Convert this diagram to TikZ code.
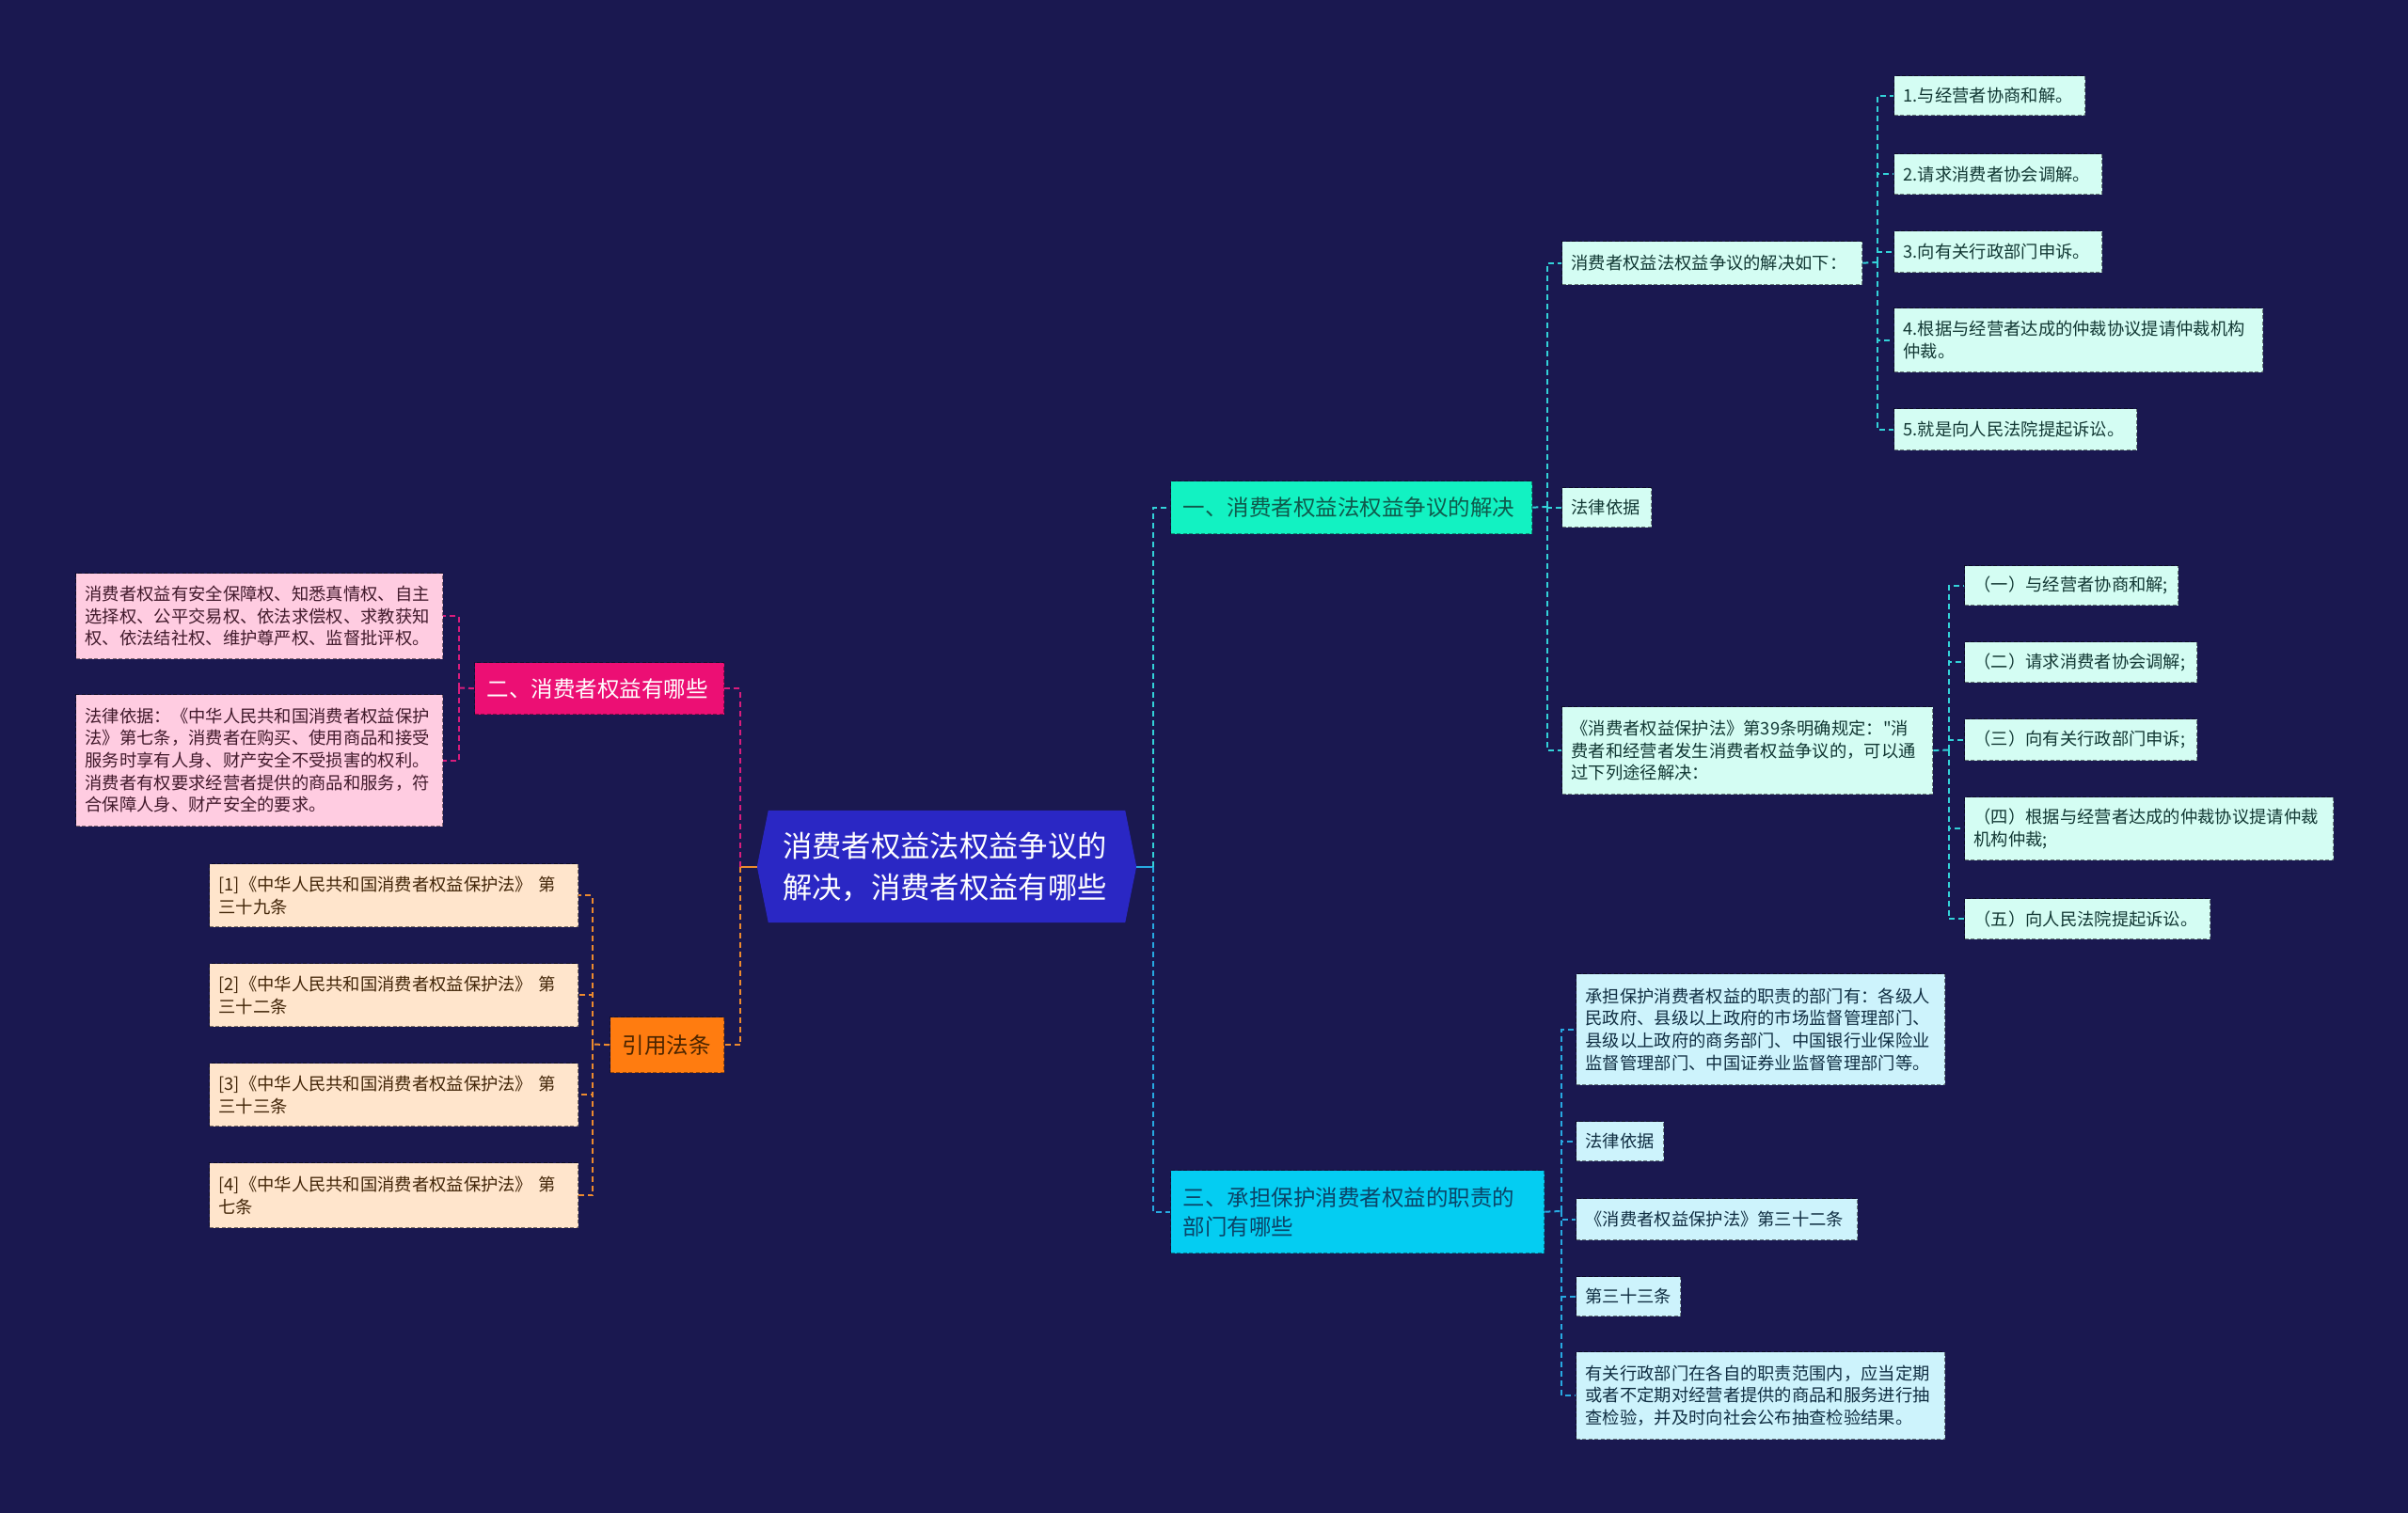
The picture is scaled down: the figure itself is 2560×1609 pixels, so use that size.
\documentclass[tikz,border=0pt]{standalone}
\usepackage{fontspec}
\setmainfont{Noto Sans CJK SC}
\newfontfamily\plainq{Noto Sans CJK SC}
\usetikzlibrary{backgrounds}
\definecolor{bgc}{HTML}{1A1850}
\definecolor{rootc}{HTML}{2A27C4}
\definecolor{b1f}{HTML}{12F2C2}
\definecolor{b1t}{HTML}{0F5A4C}
\definecolor{b2f}{HTML}{EC0F74}
\definecolor{b3f}{HTML}{04CDF2}
\definecolor{b3t}{HTML}{0B4468}
\definecolor{b4f}{HTML}{FF7C10}
\definecolor{b4t}{HTML}{4A2400}
\definecolor{mintf}{HTML}{D4FDF3}
\definecolor{mintt}{HTML}{123834}
\definecolor{cyanf}{HTML}{CDF3FC}
\definecolor{cyant}{HTML}{102E42}
\definecolor{pinkf}{HTML}{FFCCE1}
\definecolor{pinkt}{HTML}{421A2C}
\definecolor{orf}{HTML}{FFE5CC}
\definecolor{ort}{HTML}{422508}
\definecolor{l1c}{HTML}{33D2D8}
\definecolor{l3c}{HTML}{27A9E2}
\definecolor{l2c}{HTML}{D81C7C}
\definecolor{l4c}{HTML}{EC8A2E}
\begin{document}
\begin{tikzpicture}[x=1pt,y=-1pt,
  box/.style={anchor=north west, inner xsep=10pt, inner ysep=3pt, align=left,
    dashed, dash pattern=on 4pt off 2.5pt, line width=1.3pt, draw=black, draw opacity=0.5,
    font=\fontsize{18.3}{23.7}\selectfont},
  mint/.style={box, fill=mintf, text=mintt},
  cyanl/.style={box, fill=cyanf, text=cyant},
  pinkl/.style={box, fill=pinkf, text=pinkt},
  orl/.style={box, fill=orf, text=ort},
  br/.style={anchor=north west, inner xsep=13pt, inner ysep=3pt, align=left,
    dashed, dash pattern=on 4pt off 2.5pt, line width=1.3pt, draw=black, draw opacity=0.4,
    font=\fontsize{23.5}{31}\selectfont},
  conn/.style={dashed, dash pattern=on 6pt off 4pt, line width=2pt},
  c1/.style={conn, draw=l1c},
  c2/.style={conn, draw=l2c},
  c3/.style={conn, draw=l3c},
  c4/.style={conn, draw=l4c}]
\begin{scope}[on background layer]
\fill[bgc] (0,0) rectangle (2560,1609);
\end{scope}
\useasboundingbox (0,0) rectangle (2560,1609);

% root
\node[align=left, text=white, font=\fontsize{31.3}{44}\selectfont, minimum width=403pt, minimum height=119pt, inner sep=0pt] (root) at (1004.5,921.5) {消费者权益法权益争议的\\解决，消费者权益有哪些};
\begin{scope}[on background layer]
\fill[rootc] ([xshift=2pt]root.west) -- ([xshift=14pt]root.north west) -- ([xshift=-10pt]root.north east) -- ([xshift=2pt]root.east) -- ([xshift=-10pt]root.south east) -- ([xshift=14pt]root.south west) -- cycle;
\end{scope}

% main branches
\node[br, fill=b1f, text=b1t, minimum width=384pt, minimum height=56pt, text width=358pt] (b1) at (1244,511) {一、消费者权益法权益争议的解决};
\node[br, fill=b2f, text=white, minimum width=265pt, minimum height=55pt, text width=239pt] (b2) at (504,704) {二、消费者权益有哪些};
\node[br, fill=b4f, text=b4t, minimum width=121pt, minimum height=59pt, text width=95pt] (b4) at (648,1081) {引用法条};
\node[br, fill=b3f, text=b3t, minimum width=397pt, minimum height=88pt, text width=371pt] (b3) at (1244,1244) {三、承担保护消费者权益的职责的\\部门有哪些};

% branch 1 children
\node[mint, minimum width=319pt, minimum height=46pt, text width=299pt] (n11) at (1660,256) {消费者权益法权益争议的解决如下：};
\node[mint, minimum width=95pt, minimum height=42pt, text width=75pt] (n12) at (1660,518) {法律依据};
\node[mint, minimum width=394pt, minimum height=93pt, text width=374pt] (n13) at (1660,751) {《消费者权益保护法》第39条明确规定：{\plainq"}消\\费者和经营者发生消费者权益争议的，可以通\\过下列途径解决：};

\node[mint, minimum width=203pt, minimum height=42pt, text width=183pt] (m1) at (2013,80) {1.与经营者协商和解。};
\node[mint, minimum width=221pt, minimum height=43pt, text width=201pt] (m2) at (2013,163) {2.请求消费者协会调解。};
\node[mint, minimum width=221pt, minimum height=44pt, text width=201pt] (m3) at (2013,245) {3.向有关行政部门申诉。};
\node[mint, minimum width=392pt, minimum height=68pt, text width=372pt] (m4) at (2013,327) {4.根据与经营者达成的仲裁协议提请仲裁机构\\仲裁。};
\node[mint, minimum width=258pt, minimum height=44pt, text width=238pt] (m5) at (2013,434) {5.就是向人民法院提起诉讼。};

\node[mint, minimum width=227pt, minimum height=42pt, text width=207pt] (p1) at (2088,601) {（一）与经营者协商和解;};
\node[mint, minimum width=247pt, minimum height=43pt, text width=227pt] (p2) at (2088,682) {（二）请求消费者协会调解;};
\node[mint, minimum width=247pt, minimum height=44pt, text width=227pt] (p3) at (2088,764) {（三）向有关行政部门申诉;};
\node[mint, minimum width=392pt, minimum height=67pt, text width=372pt] (p4) at (2088,847) {（四）根据与经营者达成的仲裁协议提请仲裁\\机构仲裁;};
\node[mint, minimum width=261pt, minimum height=43pt, text width=241pt] (p5) at (2088,955) {（五）向人民法院提起诉讼。};

% branch 3 children
\node[cyanl, minimum width=392pt, minimum height=118pt, text width=372pt] (q1) at (1675,1035) {承担保护消费者权益的职责的部门有：各级人\\民政府、县级以上政府的市场监督管理部门、\\县级以上政府的商务部门、中国银行业保险业\\监督管理部门、中国证券业监督管理部门等。};
\node[cyanl, minimum width=93pt, minimum height=42pt, text width=73pt] (q2) at (1675,1192) {法律依据};
\node[cyanl, minimum width=299pt, minimum height=44pt, text width=279pt] (q3) at (1675,1274) {《消费者权益保护法》第三十二条};
\node[cyanl, minimum width=111pt, minimum height=42pt, text width=91pt] (q4) at (1675,1357) {第三十三条};
\node[cyanl, minimum width=392pt, minimum height=93pt, text width=372pt] (q5) at (1675,1437) {有关行政部门在各自的职责范围内，应当定期\\或者不定期对经营者提供的商品和服务进行抽\\查检验，并及时向社会公布抽查检验结果。};

% branch 2 children
\node[pinkl, minimum width=390pt, minimum height=91pt, text width=370pt] (k1) at (80,609) {消费者权益有安全保障权、知悉真情权、自主\\选择权、公平交易权、依法求偿权、求教获知\\权、依法结社权、维护尊严权、监督批评权。};
\node[pinkl, minimum width=390pt, minimum height=140pt, text width=370pt] (k2) at (80,738) {法律依据：《中华人民共和国消费者权益保护\\法》第七条，消费者在购买、使用商品和接受\\服务时享有人身、财产安全不受损害的权利。\\消费者有权要求经营者提供的商品和服务，符\\合保障人身、财产安全的要求。};

% branch 4 children
\node[orl, minimum width=392pt, minimum height=67pt, text width=372pt] (r1) at (222,918) {[1]《中华人民共和国消费者权益保护法》 第\\三十九条};
\node[orl, minimum width=392pt, minimum height=67pt, text width=372pt] (r2) at (222,1024) {[2]《中华人民共和国消费者权益保护法》 第\\三十二条};
\node[orl, minimum width=392pt, minimum height=67pt, text width=372pt] (r3) at (222,1130) {[3]《中华人民共和国消费者权益保护法》 第\\三十三条};
\node[orl, minimum width=392pt, minimum height=69pt, text width=372pt] (r4) at (222,1236) {[4]《中华人民共和国消费者权益保护法》 第\\七条};

% junctions
\coordinate (rj) at (1226,921.5);
\coordinate (lj) at (787,921.5);
\coordinate (j1) at (1645,539);
\coordinate (j11) at (1996,279);
\coordinate (j13) at (2072,797.5);
\coordinate (j3) at (1660,1288);
\coordinate (j2) at (488,731.5);
\coordinate (j4) at (630,1110.5);

% root connectors
\draw[l3c, line width=2pt] ([xshift=2pt]root.east) -- (rj);
\draw[c1] (rj) |- (b1.west);
\draw[c3] (rj) |- (b3.west);
\draw[l4c, line width=2pt] ([xshift=2pt]root.west) -- (lj);
\draw[c2] (lj) |- (b2.east);
\draw[c4] (lj) |- (b4.east);

% branch 1
\draw[c1] (b1.east) -- (j1);
\foreach \t in {n11,n12,n13} \draw[c1] (j1) |- (\t.west);
\draw[c1] (n11.east) -- (j11);
\foreach \t in {m1,m2,m3,m4,m5} \draw[c1] (j11) |- (\t.west);
\draw[c1] (n13.east) -- (j13);
\foreach \t in {p1,p2,p3,p4,p5} \draw[c1] (j13) |- (\t.west);

% branch 3
\draw[c3] (b3.east) -- (j3);
\foreach \t in {q1,q2,q3,q4,q5} \draw[c3] (j3) |- (\t.west);

% branch 2
\draw[c2] (b2.west) -- (j2);
\foreach \t in {k1,k2} \draw[c2] (j2) |- (\t.east);

% branch 4
\draw[c4] (b4.west) -- (j4);
\foreach \t in {r1,r2,r3,r4} \draw[c4] (j4) |- (\t.east);
\end{tikzpicture}
\end{document}
